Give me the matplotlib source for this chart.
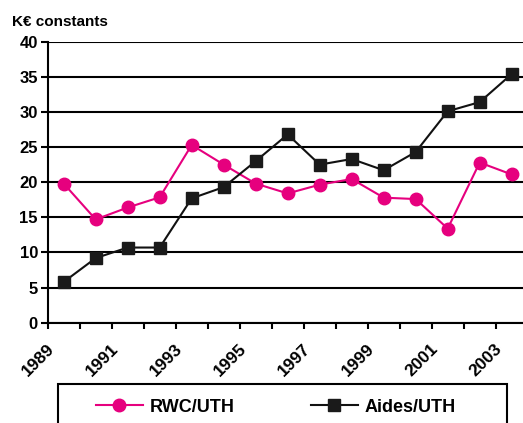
import numpy as np
import matplotlib.pyplot as plt
import matplotlib.transforms as mtransforms
from matplotlib.patches import Rectangle

plt.rcParams['font.family'] = ['Liberation Sans', 'DejaVu Sans']

# data
years = list(range(1989, 2004))
rwc_uth = [19.8, 14.7, 16.4, 17.85, 25.3, 22.5, 19.8, 18.4, 19.65, 20.45,
           17.8, 17.6, 13.4, 22.8, 21.1]
aides_uth = [5.8, 9.2, 10.7, 10.7, 17.7, 19.3, 23.0, 26.8, 22.5, 23.3,
             21.7, 24.3, 30.1, 31.4, 35.4]
year_labels = [str(y) for y in years[::2]]

pink = '#E6007E'

fig = plt.figure(figsize=(5.23, 4.23), dpi=100)
W, H = 523, 423
left, right, top, bottom = 47.7, 527.7, 41.7, 322.7
ax = fig.add_axes([left / W, 1 - bottom / H, (right - left) / W, (bottom - top) / H])

x = np.arange(len(years))
ax.plot(x, rwc_uth, color=pink, lw=1.5, marker='o', ms=9, mfc=pink, mec=pink,
        label='RWC/UTH', zorder=3, clip_on=False)
ax.plot(x, aides_uth, color='#111111', lw=1.5, marker='s', ms=8.5, mfc='#1a1a1a',
        mec='#1a1a1a', label='Aides/UTH', zorder=3, clip_on=False)

ax.set_xlim(-0.5, len(years) - 0.5)
ax.set_ylim(0, 40)
ax.set_yticks(np.arange(0, 41, 5))
ax.yaxis.grid(True, color='black', lw=1.5)
ax.set_axisbelow(True)

# tick marks between categories, labels every two years
ax.set_xticks(np.arange(-0.5, len(years) + 0.5, 1))
ax.set_xticklabels([])
ax.set_xticks(x[::2], year_labels, minor=True)
ax.tick_params(axis='x', which='major', length=4, width=1.5, color='black')
ax.tick_params(axis='x', which='minor', length=0, pad=13, labelsize=12.5)
ax.tick_params(axis='y', length=5, width=1.5, labelsize=12, pad=2)
for lab in ax.get_xticklabels(minor=True):
    lab.set_rotation(45)
    lab.set_ha('right')
    lab.set_va('top')
    lab.set_rotation_mode('anchor')
    lab.set_fontweight('bold')
    lab.set_transform(lab.get_transform() +
                      mtransforms.ScaledTranslation(-0.17, 0, fig.dpi_scale_trans))
for lab in ax.get_yticklabels():
    lab.set_fontweight('bold')

for s in ['top', 'right']:
    ax.spines[s].set_visible(False)
ax.spines['bottom'].set_linewidth(1.5)
ax.spines['left'].set_linewidth(1.5)

fig.text(12 / W, 1 - 22 / H, 'K€ constants', fontsize=11, fontweight='bold',
         va='center', ha='left')

# legend box (cut off at the bottom like the original)
fig.patches.append(Rectangle((58 / W, 1 - 440 / H), (507 - 58) / W, (440 - 384) / H,
                             transform=fig.transFigure, fill=False,
                             edgecolor='black', lw=1.5))
fig.legend(loc='center left', bbox_to_anchor=(96 / W, 1 - 407 / H), ncol=2,
           frameon=False, prop={'weight': 'bold', 'size': 13},
           handlelength=2.6, columnspacing=4.2, handletextpad=0.4,
           borderaxespad=0, borderpad=0)

fig.savefig('out.png', dpi=100)
